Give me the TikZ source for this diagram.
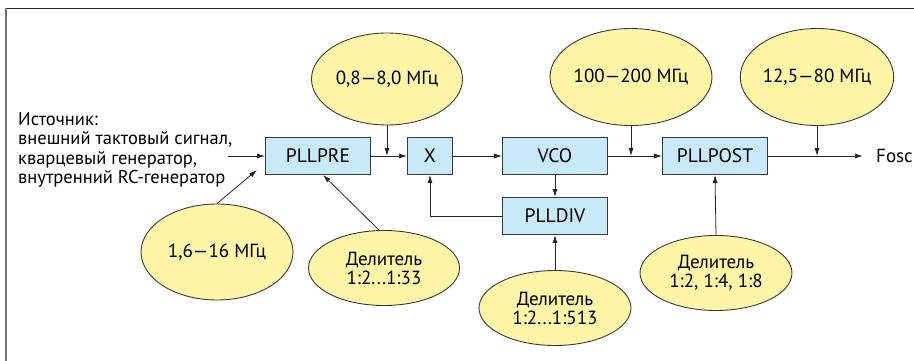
\documentclass[tikz,border=0pt]{standalone}
\usepackage{fontspec}
\setmainfont{PT Sans}
\usetikzlibrary{arrows.meta,shapes.geometric,calc}
\definecolor{blockblue}{HTML}{C8E9F8}
\definecolor{ovalyellow}{HTML}{FFF5A6}
\definecolor{edgegray}{HTML}{3A3A3A}
\begin{document}
\begin{tikzpicture}[x=1pt,y=-1pt,
  block/.style={draw=edgegray, fill=blockblue, line width=0.9pt, inner sep=0pt,
    minimum width=105pt, minimum height=37pt, font=\fontsize{19.5}{19.5}\selectfont},
  oval/.style={ellipse, draw=edgegray, fill=ovalyellow, line width=0.9pt, inner sep=0pt,
    align=center, font=\fontsize{19}{19}\selectfont},
  arr/.style={draw=black!85, line width=0.8pt, -{Latex[length=8pt,width=5pt]}}]
\useasboundingbox (0,0) rectangle (914,361);

% frame
\draw[line width=1.6pt, black!85] (5,8.5) -- (914,8.5);
\draw[line width=2pt, black!55] (6,8) -- (6,361);

% blocks
\node[block] (pre)  at (318,156) {PLLPRE};
\node[block, minimum width=45pt] (mul) at (430,156) {X};
\node[block] (vco)  at (555,156) {VCO};
\node[block] (post) at (715,156) {PLLPOST};
\node[block] (div)  at (555,216) {PLLDIV};

% frequency and divider ovals
\node[oval, minimum width=151pt, minimum height=92pt] (fin)  at (387,79) {0,8—8,0 МГц};
\node[oval, minimum width=151pt, minimum height=97pt] (fvco) at (631,77) {100—200 МГц};
\node[oval, minimum width=151pt, minimum height=97pt] (fout) at (817,77) {12,5—80 МГц};
\node[oval, minimum width=152pt, minimum height=96pt] (fsrc) at (217,252) {1,6—16 МГц};
\node[oval, minimum width=151pt, minimum height=75pt] (dpre) at (384,268) {Делитель\\1:2...1:33};
\node[oval, minimum width=152pt, minimum height=75pt] (ddiv) at (555,308) {Делитель\\1:2...1:513};
\node[oval, minimum width=152pt, minimum height=75pt] (dpost) at (716,273) {Делитель\\1:2, 1:4, 1:8};

% source description
\node[anchor=west, align=left, inner sep=0pt,
  font=\fontsize{18.5}{19.3}\selectfont] (src) at (18,150)
  {Источник:\\внешний тактовый сигнал,\\кварцевый генератор,\\внутренний RC-генератор};

\node[anchor=west, inner sep=0pt, font=\fontsize{19}{19}\selectfont] (fosc) at (876,156) {Fosc};

% junction points
\coordinate (srcin) at (228,156);
\coordinate (j1) at (387,156);
\coordinate (j2) at (631,156);
\coordinate (j3) at (817,156);
\coordinate (fsrctip) at (257,170);

% signal path
\draw[arr] (srcin) -- (pre.west);
\draw[arr] (pre.east) -- (mul.west);
\draw[arr] (mul.east) -- (vco.west);
\draw[arr] (vco.east) -- (post.west);
\draw[arr] (post.east) -- ($(fosc.west)+(-13,0)$);
\draw[arr] (vco.south) -- (div.north);
\draw[arr] (div.west) -| (mul.south);

% parameter inputs
\draw[arr] (fin.south) -- (j1);
\draw[arr] (fvco.south) -- (j2);
\draw[arr] (fout.south) -- (j3);
\draw[arr] (fsrc.north) -- (fsrctip);
\draw[arr] ($(dpre.north)+(-5,0)$) -- ($(pre.south)+(5,0)$);
\draw[arr] (ddiv.north) -- (div.south);
\draw[arr] (dpost.north) -- (post.south);
\end{tikzpicture}
\end{document}
